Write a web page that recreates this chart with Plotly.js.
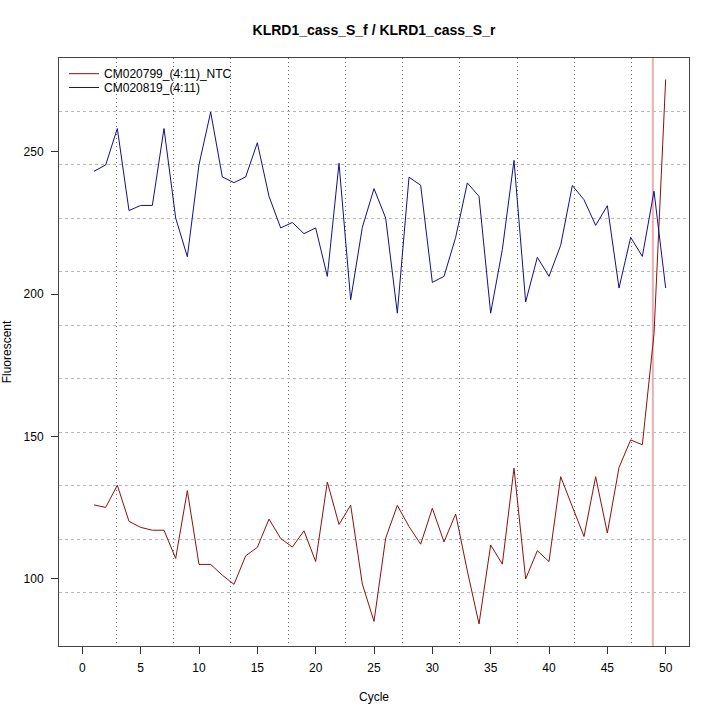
<!DOCTYPE html>
<html><head><meta charset="utf-8">
<script src="https://cdn.plot.ly/plotly-3.0.1.min.js"></script>
<style>html,body{margin:0;padding:0;background:#fff}#chart{width:720px;height:720px}</style>
</head><body><div id="chart"></div>
<script>
const cycles = [1,2,3,4,5,6,7,8,9,10,11,12,13,14,15,16,17,18,19,20,21,22,23,24,25,26,27,28,29,30,31,32,33,34,35,36,37,38,39,40,41,42,43,44,45,46,47,48,49,50];
const ntcName = 'CM020799_(4:11)_NTC';
const ntcValues = [126.0,125.1,132.9,120.2,118.1,117.1,117.1,107.2,131.0,105.1,
  105.1,101.3,98.1,108.1,111.1,121.0,114.2,111.2,116.9,106.1,
  134.0,119.1,125.9,98.2,85.1,114.3,125.8,118.4,112.2,124.8,
  113.0,122.8,102.8,84.2,111.9,105.2,138.9,100.0,109.9,106.1,
  135.9,125.4,114.9,135.9,116.1,139.1,148.8,147.1,186.0,275.3];
const sampleName = 'CM020819_(4:11)';
const sampleValues = [243.1,245.3,258.1,229.3,231.1,231.1,258.1,226.7,213.1,245.4,
  263.9,241.1,239.1,241.1,253.1,234.3,223.2,225.1,221.2,223.2,
  206.2,245.9,198.0,223.4,237.0,226.7,193.3,241.0,238.2,204.1,
  206.2,219.9,239.0,234.3,193.3,215.6,246.9,197.2,212.9,206.2,
  217.1,238.1,233.1,224.1,231.0,202.1,219.9,213.2,236.1,202.1];
const xTickVals = [0,5,10,15,20,25,30,35,40,45,50];
const xTickText = ['0','5','10','15','20','25','30','35','40','45','50'];
const yTickVals = [100,150,200,250];
const yTickText = ['100','150','200','250'];
const thresholdCycle = 48.9;
const chartTitle = 'KLRD1_cass_S_f / KLRD1_cass_S_r';

const xRange = [-2.0, 52.0];
const yRange = [76.46, 282.85];
const nGrid = 11;
function gridVals(r){ const s=(r[1]-r[0])/nGrid; const v=[]; for(let k=1;k<nGrid;k++) v.push(r[0]+k*s); return v; }

const FONT = 'Liberation Sans, Arial, Helvetica, sans-serif';

const traces = [
  {x: cycles, y: ntcValues, name: ntcName, type:'scatter', mode:'lines', line:{color:'#8b1010', width:1}, legend:'legend'},
  {x: cycles, y: sampleValues, name: sampleName, type:'scatter', mode:'lines', line:{color:'#10108b', width:1}, legend:'legend2'}
];

const legendBase = {x:0.008, xanchor:'left', yanchor:'top', bgcolor:'rgba(0,0,0,0)', font:{size:12}, itemwidth:30, tracegroupgap:0};

const layout = {
  width:720, height:720,
  paper_bgcolor:'#fff', plot_bgcolor:'#fff',
  margin:{l:59, r:31, t:58, b:74},
  font:{family:FONT, size:12, color:'#000'},
  showlegend:true,
  title:{text:'<b>'+chartTitle+'</b>', font:{family:FONT, size:14, color:'#000'}, x:0.5, xref:'paper', xanchor:'center', y:1-30/720, yref:'container', yanchor:'middle'},
  xaxis:{range:xRange, tickmode:'array', tickvals:xTickVals, ticktext:xTickText, ticks:'outside', ticklen:7, tickcolor:'#333', tickwidth:1,
    showline:true, mirror:true, linecolor:'#444', linewidth:1, showgrid:false, zeroline:false,
    minor:{tickmode:'array', tickvals:gridVals(xRange), showgrid:true, gridcolor:'#666', griddash:'1px,3px', gridwidth:1, ticks:''},
    tickfont:{size:12}, ticklabelstandoff:4,
    title:{text:'Cycle', font:{size:12}, standoff:18}},
  yaxis:{range:yRange, tickmode:'array', tickvals:yTickVals, ticktext:yTickText, ticks:'outside', ticklen:7, tickcolor:'#333', tickwidth:1,
    showline:true, mirror:true, linecolor:'#444', linewidth:1, showgrid:false, zeroline:false,
    minor:{tickmode:'array', tickvals:gridVals(yRange), showgrid:true, gridcolor:'#b8b8b8', griddash:'3px,3px', gridwidth:1, ticks:''},
    tickfont:{size:12}, ticklabelstandoff:5,
    title:{text:'Fluorescent', font:{size:12}, standoff:12}},
  legend: Object.assign({}, legendBase, {y:0.998}),
  legend2: Object.assign({}, legendBase, {y:0.9745}),
  shapes:[{type:'line', xref:'x', yref:'paper', x0:thresholdCycle, x1:thresholdCycle, y0:0, y1:1, line:{color:'#eab0b0', width:2}, layer:'below'}]
};

Plotly.newPlot('chart', traces, layout, {displayModeBar:false, staticPlot:true});
</script>
</body></html>
